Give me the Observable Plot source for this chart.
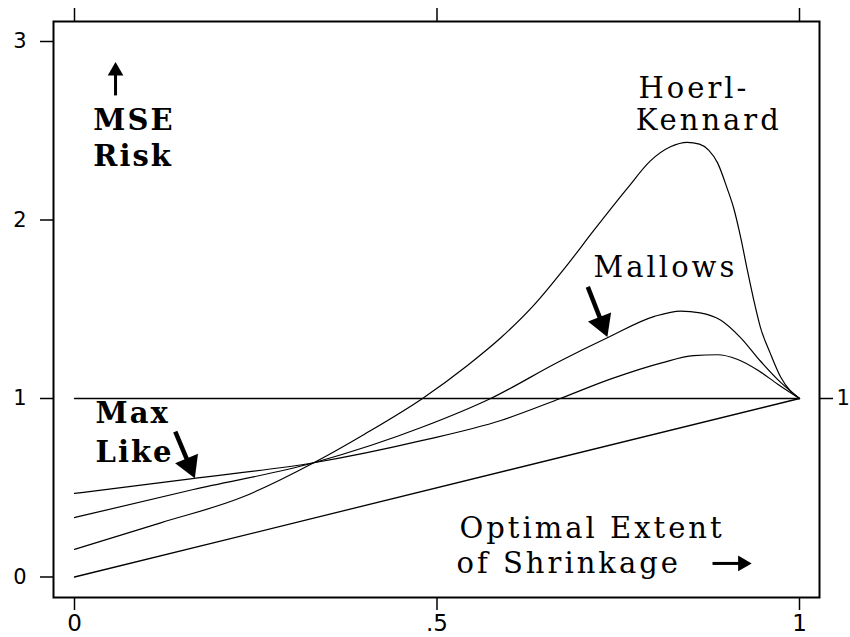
<!DOCTYPE html>
<html><head><meta charset="utf-8">
<script src="https://cdn.jsdelivr.net/npm/d3@7"></script>
<script src="https://cdn.jsdelivr.net/npm/@observablehq/plot@0.6"></script>
<style>body{margin:0;background:#fff}</style>
</head><body><div id="chart"></div>
<script>
// ---- tick values / labels ----
const xTicks = [0, 0.5, 1];
const xTickLabels = ["0", ".5", "1"];
const yTicks = [0, 1, 2, 3];
const yTickLabels = ["0", "1", "2", "3"];
const rightTicks = [1];
const rightTickLabels = ["1"];

// ---- series ----
const hoerlX = [0, 0.12, 0.23, 0.33, 0.40, 0.48, 0.542, 0.588, 0.633, 0.68, 0.716, 0.763, 0.794, 0.822, 0.845, 0.862, 0.875, 0.887, 0.90, 0.909, 0.919, 0.928, 0.937, 0.946, 0.96, 0.974, 1];
const hoerlY = [0.155, 0.305, 0.445, 0.64, 0.80, 1.0, 1.185, 1.34, 1.52, 1.75, 1.94, 2.18, 2.33, 2.41, 2.435, 2.425, 2.39, 2.32, 2.18, 2.07, 1.90, 1.72, 1.55, 1.40, 1.25, 1.12, 1.0];
const mallowsX = [0, 0.164, 0.33, 0.48, 0.574, 0.67, 0.735, 0.80, 0.836, 0.863, 0.891, 0.919, 0.946, 0.974, 1];
const mallowsY = [0.333, 0.49, 0.64, 0.84, 1.0, 1.21, 1.34, 1.46, 1.49, 1.48, 1.44, 1.34, 1.21, 1.09, 1.0];
const maxLikeX = [0, 0.16, 0.33, 0.48, 0.588, 0.67, 0.74, 0.81, 0.854, 0.887, 0.914, 0.942, 0.97, 1];
const maxLikeY = [0.468, 0.55, 0.64, 0.765, 0.877, 1.0, 1.11, 1.20, 1.24, 1.245, 1.22, 1.16, 1.08, 1.0];
const diagX = [0, 1];
const diagY = [0, 1];
const unityX = [0, 1];
const unityY = [1, 1];

// ---- annotations (data coordinates) ----
const boldText = ["MSE", "Risk", "Max", "Like"];
const boldX = [0.026, 0.026, 0.029, 0.029];
const boldY = [2.507, 2.30, 0.86, 0.647];
const plainText = ["Hoerl-", "Kennard", "Mallows", "Optimal Extent", "of Shrinkage"];
const plainX = [0.778, 0.774, 0.716, 0.531, 0.527];
const plainY = [2.681, 2.507, 1.678, 0.216, 0.025];
// small-head arrows: MSE (up), Shrinkage (right)
const smallArrowX1 = [0.0566, 0.880];
const smallArrowY1 = [2.698, 0.076];
const smallArrowX2 = [0.0566, 0.934];
const smallArrowY2 = [2.885, 0.076];
// large-head arrows: Mallows, Max Like
const bigArrowX1 = [0.708, 0.139];
const bigArrowY1 = [1.625, 0.815];
const bigArrowX2 = [0.735, 0.166];
const bigArrowY2 = [1.345, 0.553];

const W = 850, H = 637, ML = 53, MR = 31, MT = 21, MB = 40;
const xDomain = [-21/725, 1 + 20/725];
const yDomain = [-20.5/178.5, 555.5/178.5];
const xs = Plot.scale({x: {domain: xDomain, range: [ML, W - MR]}});
const ys = Plot.scale({y: {domain: yDomain, range: [H - MB, MT]}});

// head: filled d3 triangle symbol; tip lies 1.555 r from its centroid, base 0.778 r behind
function arrowParts(x1a, y1a, x2a, y2a, r) {
  const shafts = [], heads = [];
  const tipDist = 1.555 * r, headLen = 2.333 * r;
  x1a.forEach((x1, i) => {
    const px1 = xs.apply(x1), py1 = ys.apply(y1a[i]);
    const px2 = xs.apply(x2a[i]), py2 = ys.apply(y2a[i]);
    const dx = px2 - px1, dy = py2 - py1, L = Math.hypot(dx, dy);
    const ux = dx / L, uy = dy / L;
    shafts.push({x1, y1: y1a[i], x2: xs.invert(px2 - ux * (headLen - 2)), y2: ys.invert(py2 - uy * (headLen - 2))});
    heads.push({x: xs.invert(px2 - ux * tipDist), y: ys.invert(py2 - uy * tipDist), rotate: Math.atan2(dx, -dy) * 180 / Math.PI});
  });
  return {shafts, heads};
}
const small = arrowParts(smallArrowX1, smallArrowY1, smallArrowX2, smallArrowY2, 5.8);
const big = arrowParts(bigArrowX1, bigArrowY1, bigArrowX2, bigArrowY2, 9.2);

const toRows = (xa, ya, name) => xa.map((x, i) => ({x, y: ya[i], series: name}));
const curves = [
  toRows(hoerlX, hoerlY, "Hoerl-Kennard"),
  toRows(mallowsX, mallowsY, "Mallows"),
  toRows(maxLikeX, maxLikeY, "Max Like")
];
const straight = [toRows(diagX, diagY, "diag"), toRows(unityX, unityY, "unity")];
const boldRows = boldText.map((t, i) => ({t, x: boldX[i], y: boldY[i]}));
const plainRows = plainText.map((t, i) => ({t, x: plainX[i], y: plainY[i]}));

const serif = "DejaVu Serif";
const sans = "DejaVu Sans";

const chart = Plot.plot({
  width: W, height: H,
  marginLeft: ML, marginRight: MR, marginTop: MT, marginBottom: MB,
  x: {domain: xDomain},
  y: {domain: yDomain},
  style: {background: "#fff", color: "#000", fontFamily: sans},
  marks: [
    Plot.frame({stroke: "#000", strokeWidth: 2}),
    Plot.axisX({anchor: "bottom", ticks: xTicks, tickFormat: d => xTickLabels[xTicks.indexOf(d)], tickSize: 13, tickPadding: 4, fontSize: 23, label: null, strokeWidth: 1.5}),
    Plot.axisX({anchor: "top", ticks: xTicks, tickFormat: () => "", tickSize: 14, label: null, strokeWidth: 1.5}),
    Plot.axisY({anchor: "left", ticks: yTicks, tickFormat: d => yTickLabels[yTicks.indexOf(d)], tickSize: 13, tickPadding: 14, fontSize: 21, label: null, strokeWidth: 1.5}),
    Plot.axisY({anchor: "right", ticks: rightTicks, tickFormat: d => rightTickLabels[rightTicks.indexOf(d)], tickSize: 13, tickPadding: 4, fontSize: 21, label: null, strokeWidth: 1.5}),
    ...straight.map(rows => Plot.line(rows, {x: "x", y: "y", stroke: "#000", strokeWidth: 1.3})),
    ...curves.map(rows => Plot.line(rows, {x: "x", y: "y", curve: "monotone-x", stroke: "#000", strokeWidth: 1.2})),
    Plot.link(small.shafts, {x1: "x1", y1: "y1", x2: "x2", y2: "y2", stroke: "#000", strokeWidth: 3}),
    Plot.link(big.shafts, {x1: "x1", y1: "y1", x2: "x2", y2: "y2", stroke: "#000", strokeWidth: 4.5}),
    Plot.dot(small.heads, {x: "x", y: "y", rotate: "rotate", r: 5.8, symbol: "triangle", fill: "#000", stroke: "none"}),
    Plot.dot(big.heads, {x: "x", y: "y", rotate: "rotate", r: 9.2, symbol: "triangle", fill: "#000", stroke: "none"}),
    Plot.text(boldRows, {x: "x", y: "y", text: "t", textAnchor: "start", lineAnchor: "bottom", fontFamily: serif, fontWeight: "bold", fontSize: 29, fill: "#000"}),
    Plot.text(plainRows, {x: "x", y: "y", text: "t", textAnchor: "start", lineAnchor: "bottom", fontFamily: serif, fontSize: 29, fill: "#000"})
  ]
});
chart.querySelectorAll('g[aria-label="text"] text').forEach(t => { t.style.letterSpacing = t.closest('g').getAttribute('font-weight') === 'bold' ? "2px" : "3px"; });
document.getElementById("chart").appendChild(chart);
</script>
</body></html>
